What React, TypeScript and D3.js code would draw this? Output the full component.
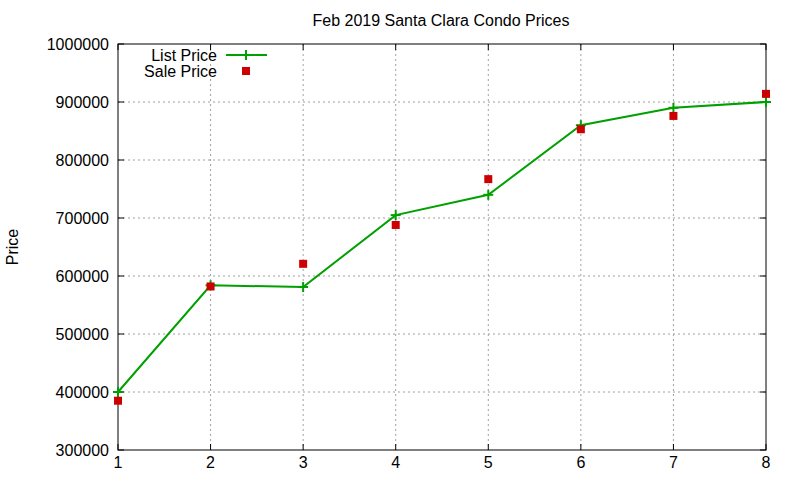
import { useEffect, useRef } from "react";
import * as d3 from "d3";

const rooms = [1, 2, 3, 4, 5, 6, 7, 8];
const listPrice = [400000, 584000, 581000, 705000, 740000, 860000, 890000, 900000];
const salePrice = [385000, 582000, 621000, 688000, 767000, 853000, 876000, 914000];
const yTicks = [300000, 400000, 500000, 600000, 700000, 800000, 900000, 1000000];
const title = "Feb 2019 Santa Clara Condo Prices";

export default function App() {
  const svgRef = useRef<SVGSVGElement | null>(null);

  useEffect(() => {
    if (!svgRef.current) return;
    const svg = d3.select(svgRef.current);
    svg.selectAll("*").remove();

    const left = 118, right = 766, top = 44, bottom = 450;
    const x = d3.scaleLinear().domain([1, 8]).range([left, right]);
    const y = d3.scaleLinear().domain([300000, 1000000]).range([bottom, top]);
    const font = "Liberation Sans, Arial, sans-serif";
    const fs = 16;

    svg.append("rect").attr("width", 800).attr("height", 480).attr("fill", "#fff");

    // grid
    const grid = svg.append("g").attr("stroke", "#a0a0a0").attr("stroke-width", 1).attr("stroke-dasharray", "2,3");
    rooms.slice(1, -1).forEach(r => {
      grid.append("line").attr("x1", x(r)).attr("x2", x(r)).attr("y1", top).attr("y2", bottom);
    });
    yTicks.slice(1, -1).forEach(v => {
      grid.append("line").attr("x1", left).attr("x2", right).attr("y1", y(v)).attr("y2", y(v));
    });

    // ticks (mirrored, inward)
    const ticks = svg.append("g").attr("stroke", "#000").attr("stroke-width", 1);
    yTicks.forEach(v => {
      ticks.append("line").attr("x1", left).attr("x2", left + 6).attr("y1", y(v)).attr("y2", y(v));
      ticks.append("line").attr("x1", right - 6).attr("x2", right).attr("y1", y(v)).attr("y2", y(v));
    });
    rooms.forEach(r => {
      ticks.append("line").attr("x1", x(r)).attr("x2", x(r)).attr("y1", bottom).attr("y2", bottom - 6);
      ticks.append("line").attr("x1", x(r)).attr("x2", x(r)).attr("y1", top).attr("y2", top + 6);
    });

    svg.append("rect")
      .attr("x", left).attr("y", top).attr("width", right - left).attr("height", bottom - top)
      .attr("fill", "none").attr("stroke", "#000").attr("stroke-width", 1);

    // tick labels
    svg.append("g").selectAll("text").data(yTicks).enter().append("text")
      .attr("x", left - 9).attr("y", d => y(d)).attr("dy", "0.35em")
      .attr("text-anchor", "end").attr("font-family", font).attr("font-size", fs)
      .text(d => String(d));
    svg.append("g").selectAll("text").data(rooms).enter().append("text")
      .attr("x", d => x(d)).attr("y", bottom + 18)
      .attr("text-anchor", "middle").attr("font-family", font).attr("font-size", fs)
      .text(d => String(d));

    svg.append("text")
      .attr("x", 441).attr("y", 26).attr("text-anchor", "middle")
      .attr("font-family", font).attr("font-size", fs).text(title);

    svg.append("text")
      .attr("transform", "translate(18,247) rotate(-90)").attr("text-anchor", "middle")
      .attr("font-family", font).attr("font-size", fs).text("Price");

    // list price line
    const line = d3.line<number>().x((_, i) => x(rooms[i])).y(d => y(d));
    svg.append("path").datum(listPrice).attr("d", line)
      .attr("fill", "none").attr("stroke", "#00a000").attr("stroke-width", 2);
    const cross = svg.append("g").attr("stroke", "#00a000").attr("stroke-width", 2);
    listPrice.forEach((v, i) => {
      const cx = x(rooms[i]), cy = y(v);
      cross.append("line").attr("x1", cx - 5).attr("x2", cx + 5).attr("y1", cy).attr("y2", cy);
      cross.append("line").attr("x1", cx).attr("x2", cx).attr("y1", cy - 5).attr("y2", cy + 5);
    });

    // sale price squares
    svg.append("g").selectAll("rect").data(salePrice).enter().append("rect")
      .attr("x", (_, i) => x(rooms[i]) - 4).attr("y", d => y(d) - 4)
      .attr("width", 8).attr("height", 8).attr("fill", "#cc0000");

    // legend
    const lg = svg.append("g").attr("font-family", font).attr("font-size", fs);
    lg.append("text").attr("x", 217).attr("y", 55).attr("dy", "0.35em").attr("text-anchor", "end").text("List Price");
    lg.append("text").attr("x", 217).attr("y", 71).attr("dy", "0.35em").attr("text-anchor", "end").text("Sale Price");
    lg.append("line").attr("x1", 226).attr("x2", 267).attr("y1", 55).attr("y2", 55)
      .attr("stroke", "#00a000").attr("stroke-width", 2);
    lg.append("line").attr("x1", 246).attr("x2", 246).attr("y1", 50).attr("y2", 60)
      .attr("stroke", "#00a000").attr("stroke-width", 2);
    lg.append("rect").attr("x", 242).attr("y", 67).attr("width", 8).attr("height", 8).attr("fill", "#cc0000");
  }, []);

  return (
    <svg ref={svgRef} width={800} height={480}
      style={{ position: "absolute", left: 0, top: 0, display: "block" }} />
  );
}
